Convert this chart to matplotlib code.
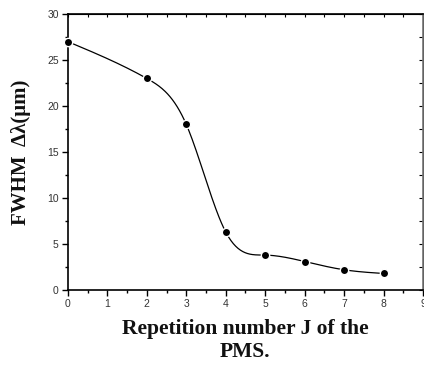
import numpy as np
import matplotlib
matplotlib.use("Agg")
import matplotlib.pyplot as plt
from matplotlib.ticker import MultipleLocator

# data
rep_j = [0, 2, 3, 4, 5, 6, 7, 8]
fwhm = [27.0, 23.0, 18.0, 6.3, 3.8, 3.1, 2.2, 1.8]


def natural_spline(x, y, n=400):
    x = np.asarray(x, float)
    y = np.asarray(y, float)
    m = len(x)
    h = np.diff(x)
    A = np.zeros((m, m))
    b = np.zeros(m)
    A[0, 0] = A[-1, -1] = 1
    for i in range(1, m - 1):
        A[i, i - 1] = h[i - 1]
        A[i, i] = 2 * (h[i - 1] + h[i])
        A[i, i + 1] = h[i]
        b[i] = 6 * ((y[i + 1] - y[i]) / h[i] - (y[i] - y[i - 1]) / h[i - 1])
    M = np.linalg.solve(A, b)
    xs = np.linspace(x[0], x[-1], n)
    idx = np.clip(np.searchsorted(x, xs) - 1, 0, m - 2)
    x0, x1 = x[idx], x[idx + 1]
    hh = x1 - x0
    t0, t1 = x1 - xs, xs - x0
    ys = (M[idx] * t0**3 + M[idx + 1] * t1**3) / (6 * hh) \
        + (y[idx] / hh - M[idx] * hh / 6) * t0 \
        + (y[idx + 1] / hh - M[idx + 1] * hh / 6) * t1
    return xs, ys


fig = plt.figure(figsize=(4.24, 3.69), dpi=100)
ax = fig.add_axes([0.160, 0.214, 0.838, 0.748])

xs, ys = natural_spline(rep_j, fwhm)
ax.plot(xs, ys, color="black", lw=0.9, zorder=2)
ax.plot(rep_j, fwhm, "o", color="black", ms=6, mec="white", mew=1.0,
        zorder=3, clip_on=False)

ax.set_xlim(0, 9)
ax.set_ylim(0, 30)
ax.xaxis.set_major_locator(MultipleLocator(1))
ax.xaxis.set_minor_locator(MultipleLocator(0.5))
ax.yaxis.set_major_locator(MultipleLocator(5))
ax.yaxis.set_minor_locator(MultipleLocator(2.5))

ax.tick_params(which="both", direction="out", top=False, right=False,
               labelsize=7.5, width=1, colors="black")
ax.tick_params(which="major", length=4.5, pad=2)
ax.tick_params(which="minor", length=2.5)
for lab in ax.get_xticklabels() + ax.get_yticklabels():
    lab.set_fontfamily("Liberation Sans")
    lab.set_color("#333333")

# inward ticks on top and right, like the original
sec = ax.secondary_xaxis("top")
sec.xaxis.set_major_locator(MultipleLocator(0.5))
sec.tick_params(direction="in", length=2, labeltop=False, width=0.8)
secy = ax.secondary_yaxis("right")
secy.yaxis.set_major_locator(MultipleLocator(2.5))
secy.tick_params(direction="in", length=3, labelright=False, width=0.8)

for s in ax.spines.values():
    s.set_linewidth(1.2)
ax.spines["right"].set_color("#777777")

ax.set_xlabel("Repetition number J of the\nPMS.", fontfamily="Liberation Serif",
              fontweight="bold", fontsize=15.5, labelpad=7, linespacing=1.2,
              color="#111111")
ax.set_ylabel("FWHM  \u0394\u03bb(\u03bcm)", fontfamily="Liberation Serif",
              fontweight="bold", fontsize=15, labelpad=12, color="#111111")

fig.savefig("out.png", dpi=100)
